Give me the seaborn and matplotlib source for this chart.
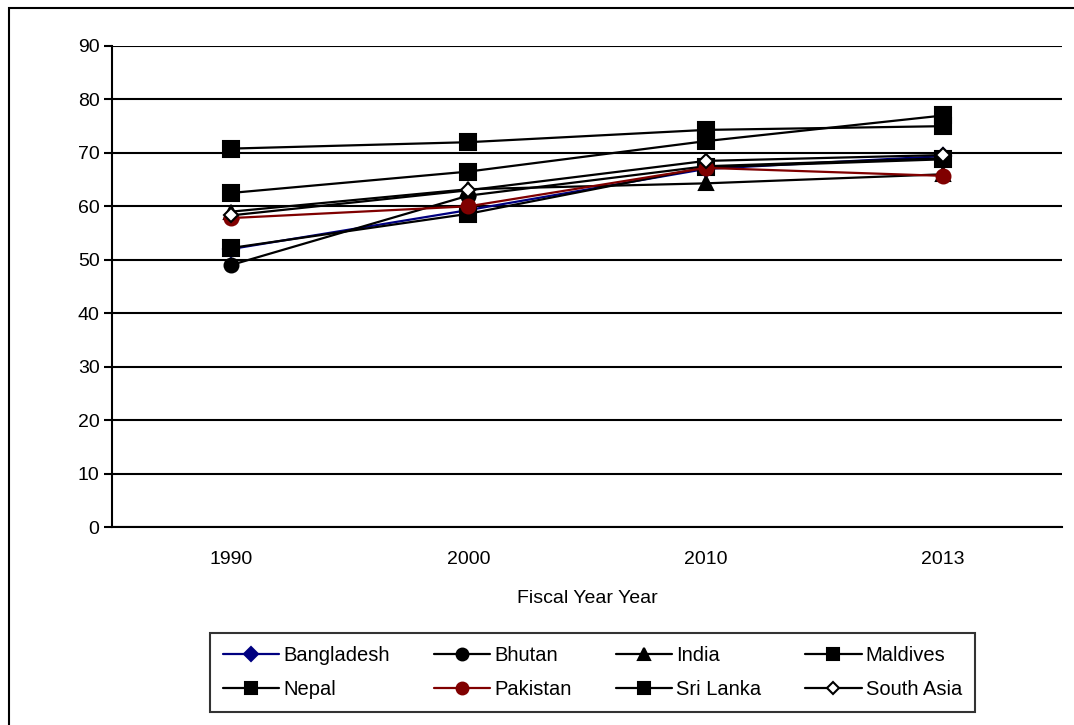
import matplotlib
matplotlib.use('Agg')
import matplotlib.pyplot as plt
import seaborn as sns
import pandas as pd
from matplotlib.patches import Rectangle

# data
years = ['1990', '2000', '2010', '2013']
bangladesh = [52.0, 59.3, 67.0, 69.4]
bhutan = [49.0, 62.0, 67.5, 69.0]
india = [59.0, 63.2, 64.3, 66.0]
maldives = [62.5, 66.5, 72.2, 77.0]
nepal = [52.2, 58.6, 67.3, 68.8]
pakistan = [57.8, 60.0, 67.2, 65.7]
sri_lanka = [70.8, 72.0, 74.3, 75.0]
south_asia = [58.3, 63.0, 68.5, 69.6]

series = {
    'Bangladesh': bangladesh, 'Bhutan': bhutan, 'India': india, 'Maldives': maldives,
    'Nepal': nepal, 'Pakistan': pakistan, 'Sri Lanka': sri_lanka, 'South Asia': south_asia,
}
df = pd.DataFrame([
    {'year': y, 'country': c, 'value': v}
    for c, vals in series.items() for y, v in zip(years, vals)
])

# (colour, marker, face colour, marker size)
styles = {
    'Bangladesh': ('#000080', 'D', '#000080', 8),
    'Bhutan': ('black', 'o', 'black', 10),
    'India': ('black', '^', 'black', 10),
    'Maldives': ('black', 's', 'black', 11),
    'Nepal': ('black', 's', 'black', 11),
    'Pakistan': ('#800000', 'o', '#800000', 10),
    'Sri Lanka': ('black', 's', 'black', 11),
    'South Asia': ('black', 'D', 'white', 7),
}

sns.set_theme(style='white')
plt.rcParams['font.family'] = ['Liberation Sans', 'DejaVu Sans']
plt.rcParams.update({'text.color': 'black', 'axes.labelcolor': 'black',
                     'xtick.color': 'black', 'ytick.color': 'black'})

fig = plt.figure(figsize=(10.74, 7.25), dpi=100)
ax = fig.add_axes([112 / 1074, 1 - 527 / 725, 950 / 1074, 481 / 725])

for name, (col, mk, fc, ms) in styles.items():
    sub = df[df['country'] == name]
    sns.lineplot(ax=ax, data=sub, x='year', y='value', color=col, marker=mk,
                 markerfacecolor=fc, markeredgecolor='black' if fc == 'white' else col,
                 markeredgewidth=1.5, markersize=ms, linewidth=1.6, label=name)

ax.set_xlim(-0.5, 3.5)
ax.set_ylim(0, 90)
ax.set_yticks(range(0, 91, 10))
ax.yaxis.grid(True, color='black', linewidth=1.5)
ax.xaxis.grid(False)
ax.set_axisbelow(True)
ax.set_xticks(range(4))
ax.set_xticklabels(years)
ax.set_xticks([-0.5, 0.5, 1.5, 2.5, 3.5], minor=True)
ax.tick_params(axis='x', which='major', length=0, pad=17, labelsize=14)
ax.tick_params(axis='x', which='minor', length=6, width=1.5, color='black', direction='out')
ax.tick_params(axis='y', length=6, width=1.5, color='black', direction='out', labelsize=14, pad=3)
ax.tick_params(left=True, bottom=True)
for s in ['top', 'right']:
    ax.spines[s].set_visible(False)
for s in ['left', 'bottom']:
    ax.spines[s].set_color('black')
    ax.spines[s].set_linewidth(1.5)
ax.set_xlabel('Fiscal Year Year', fontsize=14, labelpad=16)
ax.set_ylabel('')

ax.legend_.remove()
handles, labels = ax.get_legend_handles_labels()
# legend fills column by column, so reorder to read row by row
order = [0, 4, 1, 5, 2, 6, 3, 7]
leg = fig.legend([handles[i] for i in order], [labels[i] for i in order], ncol=4, loc='lower left',
                 bbox_to_anchor=(210 / 1074, 1 - 712 / 725, 765 / 1074, 74 / 725),
                 mode='expand', frameon=True, fancybox=False, fontsize=14.5, markerscale=0.85,
                 handlelength=2.8, handletextpad=0.2, borderaxespad=0, columnspacing=0.5,
                 labelspacing=0.75, borderpad=0.65)
leg.get_frame().set_edgecolor('black')
leg.get_frame().set_linewidth(1.5)

# outer chart frame (only top and left visible in the crop)
fig.patches.append(Rectangle((9 / 1074, -0.1), 1.2, 1 - 8 / 725 + 0.1, transform=fig.transFigure,
                             fill=False, edgecolor='black', linewidth=1.5))

fig.savefig('out.png', dpi=100)
